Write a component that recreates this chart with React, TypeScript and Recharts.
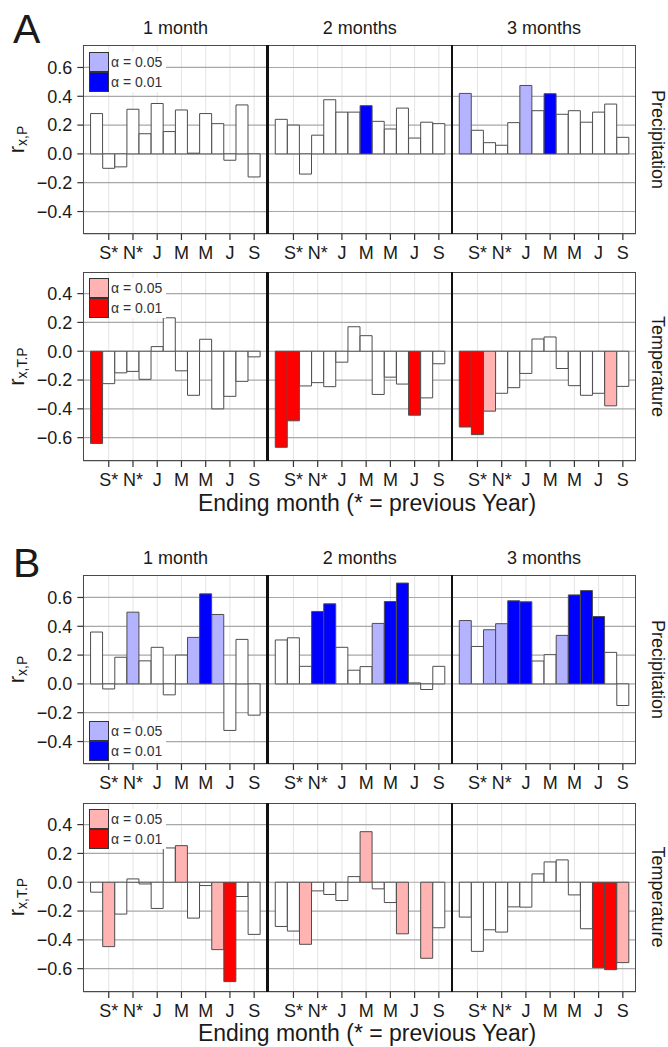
import React from 'react';
import { BarChart, Bar, XAxis, YAxis, CartesianGrid, Cell } from 'recharts';

// ---------- data ----------
const monthLabels = ['A*', 'S*', 'O*', 'N*', 'D*', 'J', 'F', 'M', 'A', 'M', 'J', 'J', 'A', 'S'];
const monthPos = [0, 1, 2, 3, 4, 5, 6, 7, 8, 9, 10, 11, 12, 13];
const xTicks = [1, 3, 5, 7, 9, 11, 13];
const precipTicks = [-0.4, -0.2, 0, 0.2, 0.4, 0.6];
const tempTicks = [-0.6, -0.4, -0.2, 0, 0.2, 0.4];
const lagTitles = ['1 month', '2 months', '3 months'];
const legendLabels = ['\u03b1 = 0.05', '\u03b1 = 0.01'];

// Group A
const aPrecip1 = [0.28, -0.10, -0.09, 0.31, 0.14, 0.35, 0.155, 0.305, 0.005, 0.28, 0.21, -0.044, 0.34, -0.16];
const aPrecip1Sig = [0, 0, 0, 0, 0, 0, 0, 0, 0, 0, 0, 0, 0, 0];
const aPrecip2 = [0.24, 0.20, -0.14, 0.13, 0.376, 0.29, 0.29, 0.335, 0.226, 0.173, 0.318, 0.11, 0.22, 0.21];
const aPrecip2Sig = [0, 0, 0, 0, 0, 0, 0, 2, 0, 0, 0, 0, 0, 0];
const aPrecip3 = [0.42, 0.164, 0.078, 0.06, 0.217, 0.475, 0.30, 0.418, 0.275, 0.30, 0.22, 0.29, 0.346, 0.115];
const aPrecip3Sig = [1, 0, 0, 0, 0, 1, 0, 2, 0, 0, 0, 0, 0, 0];
const aTemp1 = [-0.64, -0.225, -0.15, -0.14, -0.195, 0.032, 0.232, -0.136, -0.306, 0.083, -0.40, -0.313, -0.209, -0.039];
const aTemp1Sig = [2, 0, 0, 0, 0, 0, 0, 0, 0, 0, 0, 0, 0, 0];
const aTemp2 = [-0.667, -0.483, -0.241, -0.218, -0.246, -0.076, 0.17, 0.108, -0.30, -0.18, -0.228, -0.444, -0.324, -0.087];
const aTemp2Sig = [2, 2, 0, 0, 0, 0, 0, 0, 0, 0, 0, 2, 0, 0];
const aTemp3 = [-0.526, -0.579, -0.416, -0.292, -0.253, -0.154, 0.085, 0.099, -0.12, -0.239, -0.306, -0.292, -0.379, -0.244];
const aTemp3Sig = [2, 2, 1, 0, 0, 0, 0, 0, 0, 0, 0, 0, 1, 0];

// Group B
const bPrecip1 = [0.36, -0.035, 0.185, 0.498, 0.16, 0.254, -0.076, 0.20, 0.323, 0.625, 0.482, -0.323, 0.309, -0.217];
const bPrecip1Sig = [0, 0, 0, 1, 0, 0, 0, 0, 1, 2, 1, 0, 0, 0];
const bPrecip2 = [0.305, 0.32, 0.122, 0.503, 0.556, 0.254, 0.095, 0.12, 0.42, 0.572, 0.70, 0.007, -0.039, 0.122];
const bPrecip2Sig = [0, 0, 0, 2, 2, 0, 0, 0, 1, 2, 2, 0, 0, 0];
const bPrecip3 = [0.44, 0.26, 0.376, 0.418, 0.577, 0.57, 0.159, 0.203, 0.337, 0.618, 0.648, 0.468, 0.219, -0.15];
const bPrecip3Sig = [1, 0, 1, 1, 2, 2, 0, 0, 1, 2, 2, 2, 0, 0];
const bTemp1 = [-0.069, -0.447, -0.221, 0.023, -0.012, -0.182, 0.238, 0.254, -0.249, -0.023, -0.468, -0.69, -0.099, -0.362];
const bTemp1Sig = [0, 1, 0, 0, 0, 0, 0, 1, 0, 0, 1, 2, 0, 0];
const bTemp2 = [-0.307, -0.339, -0.431, -0.06, -0.085, -0.127, 0.039, 0.351, -0.046, -0.141, -0.358, 0.0, -0.528, -0.316];
const bTemp2Sig = [0, 0, 1, 0, 0, 0, 0, 1, 0, 0, 1, 0, 1, 0];
const bTemp3 = [-0.242, -0.48, -0.33, -0.346, -0.171, -0.173, 0.058, 0.141, 0.155, -0.088, -0.323, -0.593, -0.607, -0.558];
const bTemp3Sig = [0, 0, 0, 0, 0, 0, 0, 0, 0, 0, 0, 2, 2, 1];

// ---------- styling / layout ----------
const FONT = '"Liberation Sans", Arial, Helvetica, sans-serif';
const precipFills = ['#ffffff', '#b3b3ff', '#0000ff'];
const tempFills = ['#ffffff', '#ffb3b3', '#ff0000'];
const colLefts = [83.3, 267.5, 451.8];
const panelW = 184.2;
const panelH = 189;
const plotRight = 636;
const xDomain = [-1.1, 14.1];
const precipDomain = [-0.556, 0.756];
const tempDomain = [-0.762, 0.55];
const rowTops = { aP: 45, aT: 272, bP: 575, bT: 802.5 };
const axisH = 34;

const fmtY = (v: number) => {
  const s = Math.abs(v).toFixed(1);
  return v < -1e-9 ? '\u2212' + s : s;
};

function Panel({ values, sig, kind, col, top }: any) {
  const left = colLefts[col];
  const showY = col === 0;
  const yW = showY ? left : 0;
  const w = yW + panelW;
  const h = panelH + axisH;
  const data = monthPos.map((p, k) => ({ pos: p, v: values[k], s: sig[k] }));
  const fills = kind === 'P' ? precipFills : tempFills;
  return (
    <div style={{ position: 'absolute', left: showY ? 0 : left, top, width: w, height: h }}>
      <BarChart
        width={w}
        height={h}
        data={data}
        margin={{ top: 0, right: 0, bottom: 0, left: 0 }}
        barCategoryGap={0}
        barGap={0}
      >
        <CartesianGrid horizontal={false} stroke="#e4e4e4" strokeWidth={1} />
        <CartesianGrid vertical={false} stroke="#a8a8a8" strokeWidth={1.2} />
        <XAxis
          dataKey="pos"
          type="number"
          domain={xDomain}
          ticks={xTicks}
          interval={0}
          allowDataOverflow
          tickFormatter={(v: number) => monthLabels[v]}
          axisLine={false}
          tickSize={6}
          tickMargin={6}
          height={axisH}
          tickLine={{ stroke: '#333', strokeWidth: 1.2 }}
          tick={{ fontSize: 18, fill: '#1a1a1a', fontFamily: FONT }}
        />
        <YAxis
          type="number"
          domain={kind === 'P' ? precipDomain : tempDomain}
          ticks={kind === 'P' ? precipTicks : tempTicks}
          interval={0}
          allowDataOverflow
          hide={!showY}
          width={showY ? yW : 0}
          tickFormatter={fmtY}
          axisLine={false}
          tickSize={6}
          tickMargin={5}
          tickLine={{ stroke: '#333', strokeWidth: 1.2 }}
          tick={{ fontSize: 18, fill: '#1a1a1a', fontFamily: FONT }}
        />
        <Bar dataKey="v" isAnimationActive={false} stroke="#4d4d4d" strokeWidth={1}>
          {data.map((d, k) => (
            <Cell key={k} fill={fills[d.s]} />
          ))}
        </Bar>
      </BarChart>
    </div>
  );
}

function Frame({ top }: { top: number }) {
  return (
    <>
      <div
        style={{
          position: 'absolute',
          left: colLefts[0],
          top,
          width: plotRight - colLefts[0],
          height: panelH,
          border: '1.5px solid #4a4a4a',
          boxSizing: 'border-box',
        }}
      />
      {[colLefts[1], colLefts[2]].map((x, k) => (
        <div
          key={k}
          style={{ position: 'absolute', left: x - 1.3, top, width: 2.6, height: panelH, background: '#111' }}
        />
      ))}
    </>
  );
}

function Legend({ top, kind }: { top: number; kind: string }) {
  const fills = kind === 'P' ? precipFills : tempFills;
  return (
    <div style={{ position: 'absolute', left: 89, top, width: 77, height: 40, background: '#fff' }}>
      {[1, 2].map((s, k) => (
        <div key={k} style={{ position: 'absolute', left: 0, top: k * 20, width: 20, height: 20 }}>
          <div
            style={{
              position: 'absolute',
              left: 0,
              top: 0,
              width: 20,
              height: 20,
              background: fills[s],
              border: '1px solid #333',
              boxSizing: 'border-box',
            }}
          />
          <div
            style={{
              position: 'absolute',
              left: 22,
              top: 0,
              height: 20,
              lineHeight: '20px',
              fontSize: 14,
              fontFamily: FONT,
              color: '#333',
              whiteSpace: 'nowrap',
            }}
          >
            {legendLabels[k]}
          </div>
        </div>
      ))}
    </div>
  );
}

const colCenters = colLefts.map((l, k) => (k < 2 ? (l + colLefts[k + 1]) / 2 : (l + plotRight) / 2));

function YLabel({ cy, sub }: { cy: number; sub: string }) {
  return (
    <text
      x={24}
      y={cy}
      transform={`rotate(-90, 24, ${cy})`}
      textAnchor="middle"
      fontSize={22}
      fontFamily={FONT}
      fill="#1a1a1a"
    >
      r
      <tspan fontSize={14} dy={3}>
        {sub}
      </tspan>
    </text>
  );
}

function RightLabel({ cy, label }: { cy: number; label: string }) {
  return (
    <text
      x={652}
      y={cy}
      transform={`rotate(90, 652, ${cy})`}
      textAnchor="middle"
      fontSize={18}
      fontFamily={FONT}
      fill="#1a1a1a"
    >
      {label}
    </text>
  );
}

function Annotations() {
  const blocks = [
    { letter: 'A', letterY: 43, titleY: 33.5, pTop: rowTops.aP, tTop: rowTops.aT, bottomY: 510.5 },
    { letter: 'B', letterY: 577, titleY: 564, pTop: rowTops.bP, tTop: rowTops.bT, bottomY: 1040.5 },
  ];
  return (
    <svg
      width={668}
      height={1047}
      style={{ position: 'absolute', left: 0, top: 0, pointerEvents: 'none' }}
    >
      {blocks.map((b) => (
        <g key={b.letter}>
          <text x={13} y={b.letterY} fontSize={41} fontFamily={FONT} fill="#1a1a1a">
            {b.letter}
          </text>
          {lagTitles.map((t, k) => (
            <text key={t} x={colCenters[k]} y={b.titleY} textAnchor="middle" fontSize={18} fontFamily={FONT} fill="#1a1a1a">
              {t}
            </text>
          ))}
          <YLabel cy={b.pTop + panelH / 2} sub="x,P" />
          <YLabel cy={b.tTop + panelH / 2} sub="x,T.P" />
          <RightLabel cy={b.pTop + panelH / 2} label="Precipitation" />
          <RightLabel cy={b.tTop + panelH / 2} label="Temperature" />
          <text x={367} y={b.bottomY} textAnchor="middle" fontSize={23} fontFamily={FONT} fill="#1a1a1a">
            Ending month (* = previous Year)
          </text>
        </g>
      ))}
    </svg>
  );
}

export default function App() {
  const rows = [
    { top: rowTops.aP, kind: 'P', vals: [aPrecip1, aPrecip2, aPrecip3], sigs: [aPrecip1Sig, aPrecip2Sig, aPrecip3Sig] },
    { top: rowTops.aT, kind: 'T', vals: [aTemp1, aTemp2, aTemp3], sigs: [aTemp1Sig, aTemp2Sig, aTemp3Sig] },
    { top: rowTops.bP, kind: 'P', vals: [bPrecip1, bPrecip2, bPrecip3], sigs: [bPrecip1Sig, bPrecip2Sig, bPrecip3Sig] },
    { top: rowTops.bT, kind: 'T', vals: [bTemp1, bTemp2, bTemp3], sigs: [bTemp1Sig, bTemp2Sig, bTemp3Sig] },
  ];
  return (
    <div style={{ position: 'absolute', left: 0, top: 0, width: 668, height: 1047, background: '#fff', overflow: 'hidden' }}>
      {rows.map((r, ri) =>
        r.vals.map((v, ci) => (
          <Panel key={`${ri}-${ci}`} values={v} sig={r.sigs[ci]} kind={r.kind} col={ci} top={r.top} />
        ))
      )}
      {rows.map((r, ri) => (
        <Frame key={ri} top={r.top} />
      ))}
      <Legend top={rowTops.aP + 6.7} kind="P" />
      <Legend top={rowTops.aT + 6.3} kind="T" />
      <Legend top={rowTops.bP + 145.7} kind="P" />
      <Legend top={rowTops.bT + 6} kind="T" />
      <Annotations />
    </div>
  );
}
